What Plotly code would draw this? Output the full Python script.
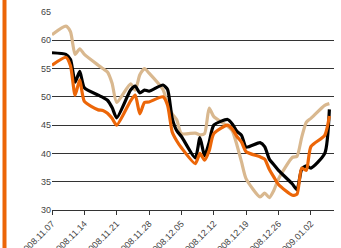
import plotly.graph_objects as go

dates = ["2008-11-07", "2008-11-10", "2008-11-11", "2008-11-12", "2008-11-13", "2008-11-14",
         "2008-11-17", "2008-11-18", "2008-11-19", "2008-11-20", "2008-11-21",
         "2008-11-24", "2008-11-25", "2008-11-26", "2008-11-27", "2008-11-28",
         "2008-12-01", "2008-12-02", "2008-12-03", "2008-12-04", "2008-12-05",
         "2008-12-08", "2008-12-09", "2008-12-10", "2008-12-11", "2008-12-12",
         "2008-12-15", "2008-12-16", "2008-12-17", "2008-12-18", "2008-12-19",
         "2008-12-22", "2008-12-23", "2008-12-24", "2008-12-25", "2008-12-26",
         "2008-12-29", "2008-12-30", "2008-12-31", "2009-01-01", "2009-01-02",
         "2009-01-05", "2009-01-06"]

black_vals = [57.8, 57.5, 56.6, 52.6, 54.5, 51.6,
              50.3, 49.9, 49.4, 48.1, 46.3,
              51.2, 51.9, 50.7, 51.2, 51.0,
              52.1, 51.3, 46.2, 44.0, 43.0,
              39.2, 42.8, 39.6, 42.0, 45.0,
              46.0, 45.2, 43.9, 43.2, 41.1,
              41.9, 41.2, 39.0, 38.0, 37.0,
              34.6, 33.6, 37.2, 37.8, 37.4,
              40.0, 47.8]

orange_vals = [55.6, 57.0, 55.5, 50.3, 53.0, 49.2,
               47.7, 47.6, 47.1, 46.2, 45.0,
               49.3, 50.3, 47.0, 49.0, 49.1,
               50.0, 48.5, 43.8, 42.2, 41.0,
               38.2, 40.0, 38.8, 40.5, 43.5,
               45.0, 44.3, 43.0, 42.0, 40.3,
               39.4, 39.0, 37.2, 35.8, 34.5,
               32.6, 32.8, 37.4, 37.0, 41.2,
               43.2, 46.6]

tan_vals = [61.0, 62.5, 61.5, 57.5, 58.5, 57.5,
            55.6, 55.0, 54.4, 52.4, 49.0,
            52.3, 51.2, 53.9, 55.0, 54.2,
            51.3, 48.8, 47.0, 45.9, 43.5,
            43.6, 43.3, 43.5, 48.0, 46.5,
            44.8, 44.0, 41.5, 38.5, 35.5,
            32.3, 33.0, 32.2, 33.5, 35.5,
            39.3, 39.5, 42.8, 45.5, 46.2,
            48.5, 48.8]

tick_dates = ["2008-11-07", "2008-11-14", "2008-11-21", "2008-11-28", "2008-12-05",
              "2008-12-12", "2008-12-19", "2008-12-26", "2009-01-02"]
tick_labels = ["2008.11.07", "2008.11.14", "2008.11.21", "2008.11.28", "2008.12.05",
               "2008.12.12", "2008.12.19", "2008.12.26", "2009.01.02"]

TAN = "#D9B88F"
ORANGE = "#EC6608"

fig = go.Figure()
for vals, color in [(tan_vals, TAN), (black_vals, "#000000"), (orange_vals, ORANGE)]:
    fig.add_trace(go.Scatter(x=dates, y=vals, mode="lines",
                             line=dict(color=color, width=3.2, shape="spline", smoothing=0.6),
                             showlegend=False, hoverinfo="skip"))

fig.update_layout(
    width=341, height=248,
    margin=dict(l=52, r=7, t=12, b=38),
    paper_bgcolor="white", plot_bgcolor="white",
    font=dict(family="Liberation Sans, Arial, sans-serif", size=9, color="#333333"),
    showlegend=False,
)
fig.update_xaxes(
    type="date", range=["2008-11-07", "2009-01-07"],
    tickvals=tick_dates, ticktext=tick_labels, tickangle=-45,
    ticks="outside", ticklen=4, tickcolor="#333333",
    showline=True, linecolor="#333333", linewidth=1,
    showgrid=False, zeroline=False, automargin=False,
    tickfont=dict(size=9, color="#444444"),
)
fig.update_yaxes(
    range=[30, 65], dtick=5, tick0=30,
    showgrid=True, gridcolor="#333333", gridwidth=1,
    showline=False, zeroline=False, ticks="", automargin=False,
    tickfont=dict(size=9, color="#444444"),
)
fig.add_shape(type="rect", xref="paper", yref="paper",
              x0=(2.5 - 52) / 282, x1=(6.5 - 52) / 282, y0=-0.3, y1=1.2,
              fillcolor=ORANGE, line=dict(width=0), layer="above")

fig.write_html("out.html", config={"displayModeBar": False},
               post_script="document.body.style.margin='0';document.body.style.overflow='hidden';")
